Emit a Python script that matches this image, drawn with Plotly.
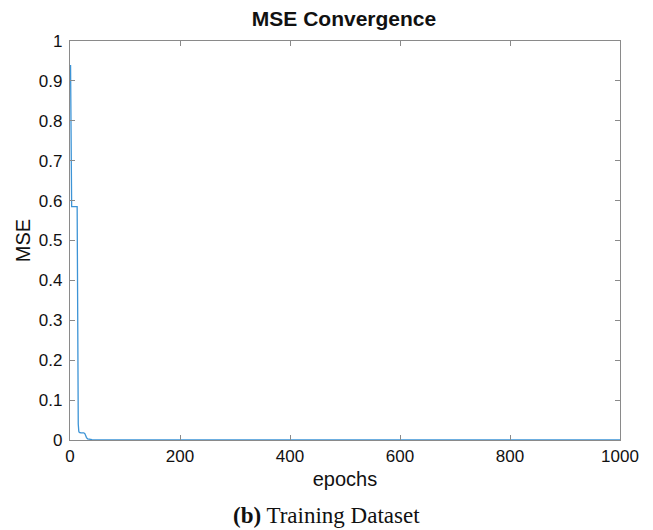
import plotly.graph_objects as go

# Data (epoch, MSE)
epochs = [1, 2, 3, 13, 14, 15, 16, 17, 20, 25, 27, 28, 30, 32, 35, 40, 60, 100, 200, 400, 600, 800, 1000]
mse = [0.94, 0.62, 0.585, 0.585, 0.06, 0.04, 0.022, 0.019, 0.018, 0.018, 0.016, 0.011, 0.006, 0.003, 0.0015, 0.0008, 0.0004, 0.0003, 0.0002, 0.0001, 0.0001, 0.0001, 0.0001]

x_ticks = [0, 200, 400, 600, 800, 1000]
y_ticks = [0, 0.1, 0.2, 0.3, 0.4, 0.5, 0.6, 0.7, 0.8, 0.9, 1]
y_tick_labels = ["0", "0.1", "0.2", "0.3", "0.4", "0.5", "0.6", "0.7", "0.8", "0.9", "1"]

SANS = "Liberation Sans, Arial, Helvetica, sans-serif"
SERIF = "Liberation Serif, Times New Roman, serif"

fig = go.Figure()
fig.add_trace(go.Scatter(x=epochs, y=mse, mode="lines",
                         line=dict(color="#3D94D6", width=1.3), showlegend=False))

axis_common = dict(showgrid=False, zeroline=False, showline=True, linecolor="#8a8a8a",
                   linewidth=1.2, mirror="ticks", ticks="inside", ticklen=5,
                   tickcolor="#8a8a8a", tickwidth=1,
                   tickfont=dict(family=SANS, size=17, color="#111"))

fig.update_layout(
    width=645, height=522,
    margin=dict(l=62, r=33, t=33, b=90),
    plot_bgcolor="white", paper_bgcolor="white",
    title=dict(text="<b>MSE Convergence</b>", x=(344 - 8) / 645, xanchor="center",
               y=1 - 11 / 522, yanchor="middle",
               font=dict(family=SANS, size=21, color="#111")),
    xaxis=dict(range=[0, 1000], tickvals=x_ticks,
               title=dict(text="epochs", standoff=7,
                          font=dict(family=SANS, size=20, color="#111")),
               **axis_common),
    yaxis=dict(range=[0, 1], tickvals=y_ticks, ticktext=y_tick_labels,
               ticklabelstandoff=3,
               title=dict(text="MSE", standoff=2,
                          font=dict(family=SANS, size=20, color="#111")),
               **axis_common),
)

fig.add_annotation(text="<b>(b)</b> Training Dataset", xref="paper", yref="paper",
                   x=0.467, y=-0.188, xanchor="center", yanchor="middle", showarrow=False,
                   font=dict(family=SERIF, size=23, color="#111"))

fig.write_html("out.html")
